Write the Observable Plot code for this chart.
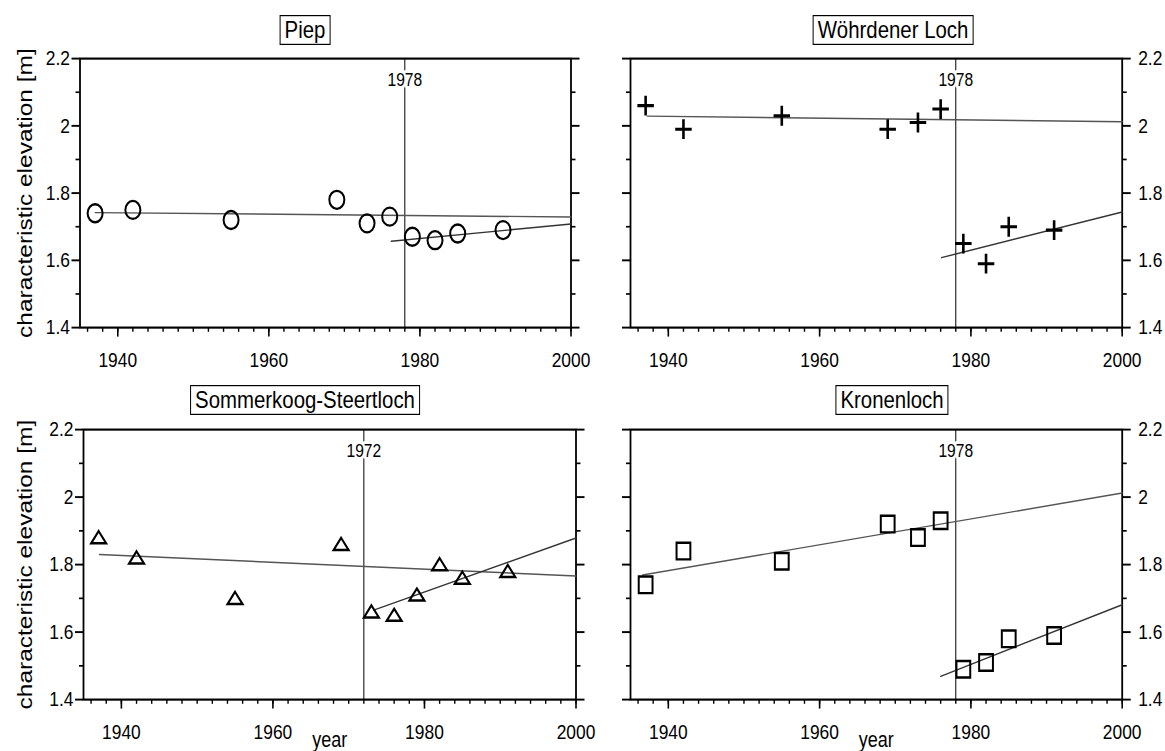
<!DOCTYPE html>
<html>
<head>
<meta charset="utf-8">
<script src="https://cdn.jsdelivr.net/npm/d3@7"></script>
<script src="https://cdn.jsdelivr.net/npm/@observablehq/plot@0.6"></script>
<style>
  body { margin: 0; background: #fff; }
  #chart { position: relative; width: 1165px; height: 751px; overflow: hidden; background: #fff;
           font-family: "Liberation Sans", Arial, Helvetica, sans-serif; color: #000; }
  .panel { position: absolute; }
  .title { position: absolute; border: 1.3px solid #000; padding: 0 4px; font-size: 20.4px;
           line-height: 23px; white-space: nowrap; transform-origin: 0 0; background: #fff; }
</style>
</head>
<body>
<div id="chart"></div>
<script>
// ---------------- data ----------------
const years = [1937, 1942, 1955, 1969, 1973, 1976, 1979, 1982, 1985, 1991];

const piepValues       = [1.74, 1.75, 1.72, 1.78, 1.71, 1.73, 1.67, 1.66, 1.68, 1.69];
const woehrdenValues   = [2.06, 1.99, 2.03, 1.99, 2.01, 2.05, 1.65, 1.59, 1.70, 1.69];
const sommerkoogValues = [1.88, 1.82, 1.70, 1.86, 1.66, 1.65, 1.71, 1.80, 1.76, 1.78];
const kronenlochValues = [1.74, 1.84, 1.81, 1.92, 1.88, 1.93, 1.49, 1.51, 1.58, 1.59];

const panelTitles = ["Piep", "Wöhrdener Loch", "Sommerkoog-Steertloch", "Kronenloch"];
const breakYears  = [1978, 1978, 1972, 1978];

// trend lines: [start, end] years and values
const trendAYears  = [[1937.0, 2000], [1937.2, 2000], [1937.1, 2000], [1936.6, 2000]];
const trendAValues = [[1.742, 1.729], [2.029, 2.012], [1.830, 1.766], [1.769, 2.012]];
const trendBYears  = [[1976.2, 2000], [1976.1, 2000], [1973.3, 2000], [1976.0, 2000]];
const trendBValues = [[1.657, 1.708], [1.608, 1.744], [1.665, 1.879], [1.469, 1.681]];

const xMajorTicks = [1940, 1960, 1980, 2000];
const xTickLabels = ["1940", "1960", "1980", "2000"];
const xMinorTicks = d3.range(1936, 2001, 2);
const yMajorTicks = [1.4, 1.6, 1.8, 2.0, 2.2];
const yTickLabels = ["1.4", "1.6", "1.8", "2", "2.2"];
const yMinorTicks = [1.5, 1.7, 1.9, 2.1];

const yAxisTitle = "characteristic elevation [m]";
const xAxisTitle = "year";

// ---------------- symbols (outlined, GMT style) ----------------
const ringSym = { draw(ctx, size) { const r = Math.sqrt(size / Math.PI); ctx.moveTo(r, 0); ctx.arc(0, 0, r, 0, 2 * Math.PI); ctx.closePath(); } };
const plusSym = { draw(ctx, size) { const r = Math.sqrt(size / Math.PI) * 1.1; ctx.moveTo(-r, 0); ctx.lineTo(r, 0); ctx.moveTo(0, -r); ctx.lineTo(0, r); } };
const triSym  = { draw(ctx, size) { const r = Math.sqrt(size / Math.PI); ctx.moveTo(0, -0.72 * r); ctx.lineTo(r, 0.62 * r); ctx.lineTo(-r, 0.62 * r); ctx.closePath(); } };
const sqSym   = { draw(ctx, size) { const r = Math.sqrt(size / Math.PI) * 0.92; ctx.moveTo(-r, -r); ctx.lineTo(r, -r); ctx.lineTo(r, r); ctx.lineTo(-r, r); ctx.closePath(); } };

const seriesValues = [piepValues, woehrdenValues, sommerkoogValues, kronenlochValues];
const symbols = [ringSym, plusSym, triSym, sqSym];
const symbolWidths = [2, 2.6, 2, 2];

// ---------------- layout (page pixels) ----------------
const K = 1.2; // vertical stretch of the original figure
const layout = [
  { left: 0,   top: 0,   width: 600, height: 372, fLeft: 79.5, fRight: 570.5, fTop: 58,  fBottom: 327, side: "left",  bottom: false, titleX: 305, titleY: 15 },
  { left: 600, top: 0,   width: 565, height: 372, fLeft: 630,  fRight: 1121.7, fTop: 58, fBottom: 327, side: "right", bottom: false, titleX: 893, titleY: 15 },
  { left: 0,   top: 372, width: 600, height: 379, fLeft: 83,   fRight: 575.5, fTop: 429, fBottom: 699, side: "left",  bottom: true,  titleX: 305, titleY: 385 },
  { left: 600, top: 372, width: 565, height: 379, fLeft: 630,  fRight: 1121.7, fTop: 429, fBottom: 699, side: "right", bottom: true,  titleX: 892, titleY: 385 }
];

const chart = document.getElementById("chart");
const fmtX = d => xTickLabels[xMajorTicks.indexOf(d)];
const fmtY = d => yTickLabels[yMajorTicks.findIndex(v => Math.abs(v - d) < 1e-9)];

layout.forEach((L, i) => {
  const points = years.map((yr, j) => ({ year: yr, value: seriesValues[i][j] }));
  const trendA = trendAYears[i].map((yr, j) => ({ year: yr, value: trendAValues[i][j] }));
  const trendB = trendBYears[i].map((yr, j) => ({ year: yr, value: trendBValues[i][j] }));
  const H0 = L.height / K;
  const mt = (L.fTop - L.top) / K;
  const mb = (L.top + L.height - L.fBottom) / K;
  const ml = L.fLeft - L.left;
  const mr = L.left + L.width - L.fRight;
  const leftLabels = L.side === "left";

  const marks = [
    Plot.frame({ stroke: "black", strokeWidth: 1.8 }),
    Plot.axisX(xMinorTicks, { anchor: "bottom", tickSize: 4, fill: "none", label: null, strokeWidth: 1.4 }),
    Plot.axisX(xMajorTicks, { anchor: "bottom", tickSize: 8, tickPadding: 12.6, tickFormat: fmtX, label: null, strokeWidth: 1.6 }),
    Plot.axisY(yMinorTicks, { anchor: "left", tickSize: 4, fill: "none", label: null, strokeWidth: 1.4 }),
    Plot.axisY(yMajorTicks, { anchor: "left", tickSize: 8, tickPadding: 2, tickFormat: fmtY, fill: leftLabels ? "black" : "none", label: null, strokeWidth: 1.6 }),
    Plot.axisY(yMinorTicks, { anchor: "right", tickSize: 4, fill: "none", label: null, strokeWidth: 1.4 }),
    Plot.axisY(yMajorTicks, { anchor: "right", tickSize: 8, tickPadding: 8, tickFormat: fmtY, fill: leftLabels ? "none" : "black", label: null, strokeWidth: 1.6 }),
    Plot.ruleX([breakYears[i]], { x: d => d, stroke: "black", strokeWidth: 1 }),
    Plot.text([breakYears[i]], { x: d => d, text: d => String(d), frameAnchor: "top", dy: 18, lineAnchor: "middle",
                                 fontSize: 15.6, fill: "black", stroke: "white", strokeWidth: 5 }),
    Plot.line(trendA, { x: "year", y: "value", stroke: "#555", strokeWidth: 1.2 }),
    Plot.line(trendB, { x: "year", y: "value", stroke: "#333", strokeWidth: 1.2 }),
    Plot.dot(points, { x: "year", y: "value", symbol: symbols[i], r: 7.5, fill: "none", stroke: "black", strokeWidth: symbolWidths[i] })
  ];
  if (leftLabels) {
    marks.push(Plot.text([yAxisTitle], { text: d => d, frameAnchor: "left", dx: 25 - ml, rotate: -90,
                                         textAnchor: "middle", lineAnchor: "middle", fontSize: 20.4 }));
  }
  if (L.bottom) {
    marks.push(Plot.text([xAxisTitle], { text: d => d, frameAnchor: "bottom", dy: 34, lineAnchor: "middle", fontSize: 18 }));
  }

  const svg = Plot.plot({
    width: L.width,
    height: H0,
    marginTop: mt, marginBottom: mb, marginLeft: ml, marginRight: mr,
    x: { domain: [1935, 2000], axis: null },
    y: { domain: [1.4, 2.2], axis: null },
    style: { fontFamily: "'Liberation Sans', Arial, Helvetica, sans-serif", fontSize: "17.4px", color: "black", background: "white" },
    marks
  });
  svg.setAttribute("preserveAspectRatio", "none");
  svg.setAttribute("height", L.height);
  svg.style.width = L.width + "px";
  svg.style.height = L.height + "px";
  svg.style.maxWidth = "none";
  svg.style.overflow = "visible";
  svg.classList.add("panel");
  svg.style.left = L.left + "px";
  svg.style.top = L.top + "px";
  chart.appendChild(svg);

  const t = document.createElement("div");
  t.className = "title";
  t.textContent = panelTitles[i];
  t.style.left = L.titleX + "px";
  t.style.top = L.titleY + "px";
  t.style.transform = `translateX(-50%) scaleY(${K})`;
  chart.appendChild(t);
});
</script>
</body>
</html>
